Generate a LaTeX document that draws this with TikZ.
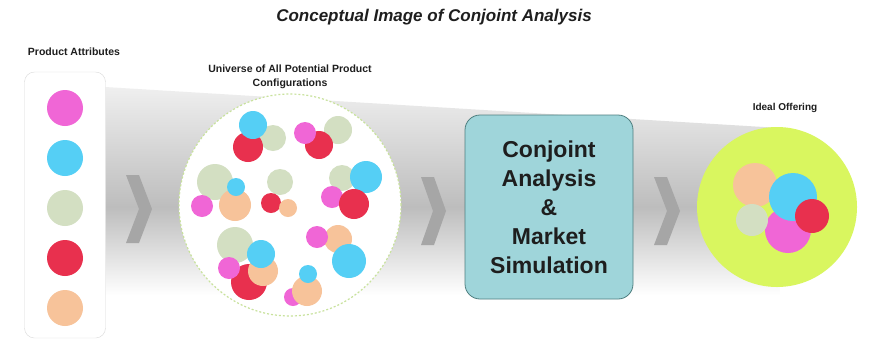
\documentclass[tikz,border=0pt]{standalone}
\usepackage{fontspec}
\setmainfont{Liberation Sans}
\definecolor{cmag}{HTML}{F066D6}
\definecolor{ccya}{HTML}{55CFF5}
\definecolor{csag}{HTML}{D3DFC2}
\definecolor{cred}{HTML}{E8304E}
\definecolor{cpea}{HTML}{F7C39A}
\definecolor{cideal}{HTML}{D9F65F}
\definecolor{cbox}{HTML}{9FD5DA}
\definecolor{cboxline}{HTML}{4F7F80}
\definecolor{ctxt}{HTML}{1E1E1E}
\definecolor{cchev}{HTML}{A6A6A6}
\definecolor{cuniv}{HTML}{C8E29C}
\definecolor{cbandtop}{HTML}{F2F2F2}
\definecolor{cbandmid}{HTML}{BDBDBD}
\begin{document}
\begin{tikzpicture}[x=1pt,y=-1pt,
  dot/.style={circle, inner sep=0pt, draw=none, fill=#1},
  lbl/.style={font=\fontsize{10}{12}\selectfont\bfseries, text=ctxt, align=center, inner sep=0pt},
  chev/.style={fill=cchev, draw=none}]
\useasboundingbox (0,0) rectangle (869,341);
\fill[white] (0,0) rectangle (869,341);
% gray funnel band
\begin{scope}
\clip (105,87) -- (780,128) -- (780,300) -- (105,300) -- cycle;
\shade[top color=cbandtop, bottom color=cbandmid] (105,80) rectangle (780,207);
\shade[top color=cbandmid, bottom color=white] (105,207) rectangle (780,295);
\fill[white] (105,295) rectangle (780,300);
\end{scope}
% title
\node[font=\fontsize{17}{20}\selectfont\bfseries\itshape, text=ctxt, inner sep=0pt] (title) at (434,17) {Conceptual Image of Conjoint Analysis};
% left box
\node[lbl, font=\fontsize{10.5}{12}\selectfont\bfseries] (lblattr) at (74,52) {Product Attributes};
\node[draw=black!15, fill=white, rounded corners=10pt, minimum width=81pt, minimum height=266pt, inner sep=0pt] (attrbox) at (65,205) {};
\node[dot=cmag, minimum size=36pt] (a1) at (65,108) {};
\node[dot=ccya, minimum size=36pt] (a2) at (65,158) {};
\node[dot=csag, minimum size=36pt] (a3) at (65,208) {};
\node[dot=cred, minimum size=36pt] (a4) at (65,258) {};
\node[dot=cpea, minimum size=36pt] (a5) at (65,308) {};
% chevrons
\fill[chev] (126,175) -- (139,175) -- (152,209) -- (139,243) -- (126,243) -- (139,209) -- cycle;
\fill[chev] (421,177) -- (434,177) -- (446,211) -- (434,245) -- (421,245) -- (433,211) -- cycle;
\fill[chev] (654,177) -- (667,177) -- (680,211) -- (667,245) -- (654,245) -- (667,211) -- cycle;
% universe
\node[lbl, font=\fontsize{10.5}{14}\selectfont\bfseries] (lbluniv) at (290,77) {Universe of All Potential Product\\Configurations};
\node[circle, fill=white, draw=cuniv, line width=1.2pt, dash pattern=on 2pt off 2pt, minimum size=222pt, inner sep=0pt] (univ) at (290,205) {};
% cluster 1
\node[dot=csag, minimum size=26pt] (c1s) at (273,138) {};
\node[dot=cred, minimum size=30pt] (c1r) at (248,147) {};
\node[dot=ccya, minimum size=28pt] (c1c) at (253,125) {};
% cluster 2
\node[dot=csag, minimum size=28pt] (c2s) at (338,130) {};
\node[dot=cred, minimum size=28pt] (c2r) at (319,145) {};
\node[dot=cmag, minimum size=22pt] (c2m) at (305,133) {};
% cluster 3
\node[dot=csag, minimum size=36pt] (c3s) at (215,182) {};
\node[dot=cpea, minimum size=32pt] (c3p) at (235,205) {};
\node[dot=ccya, minimum size=18pt] (c3c) at (236,187) {};
\node[dot=cmag, minimum size=22pt] (c3m) at (202,206) {};
% cluster 4
\node[dot=csag, minimum size=26pt] (c4s) at (280,182) {};
\node[dot=cred, minimum size=20pt] (c4r) at (271,203) {};
\node[dot=cpea, minimum size=18pt] (c4p) at (288,208) {};
% cluster 5
\node[dot=csag, minimum size=26pt] (c5s) at (342,178) {};
\node[dot=ccya, minimum size=32pt] (c5c) at (366,177) {};
\node[dot=cmag, minimum size=22pt] (c5m) at (332,197) {};
\node[dot=cred, minimum size=30pt] (c5r) at (354,204) {};
% cluster 6
\node[dot=csag, minimum size=36pt] (c6s) at (235,245) {};
\node[dot=cred, minimum size=36pt] (c6r) at (249,282) {};
\node[dot=cpea, minimum size=30pt] (c6p) at (263,271) {};
\node[dot=ccya, minimum size=28pt] (c6c) at (261,254) {};
\node[dot=cmag, minimum size=22pt] (c6m) at (229,268) {};
% cluster 7
\node[dot=cpea, minimum size=28pt] (c7p) at (338,239) {};
\node[dot=cmag, minimum size=22pt] (c7m) at (317,237) {};
\node[dot=ccya, minimum size=34pt] (c7c) at (349,261) {};
% cluster 8
\node[dot=cmag, minimum size=18pt] (c8m) at (293,297) {};
\node[dot=cpea, minimum size=30pt] (c8p) at (307,291) {};
\node[dot=ccya, minimum size=18pt] (c8c) at (308,274) {};
% conjoint box
\node[draw=cboxline, line width=0.8pt, fill=cbox, rounded corners=15pt, minimum width=168pt, minimum height=184pt, inner sep=0pt,
  font=\fontsize{23}{29}\selectfont\bfseries, text=ctxt, align=center] (conj) at (549,207) {Conjoint\\Analysis\\\&\\Market\\Simulation};
% ideal offering
\node[lbl] (lblideal) at (785,108) {Ideal Offering};
\node[dot=cideal, minimum size=160pt] (ideal) at (777,207) {};
\node[dot=cpea, minimum size=44pt] (i1) at (755,185) {};
\node[dot=cmag, minimum size=46pt] (i2) at (788,230) {};
\node[dot=csag, minimum size=32pt] (i3) at (752,220) {};
\node[dot=ccya, minimum size=48pt] (i4) at (793,197) {};
\node[dot=cred, minimum size=34pt] (i5) at (812,216) {};
\end{tikzpicture}
\end{document}
